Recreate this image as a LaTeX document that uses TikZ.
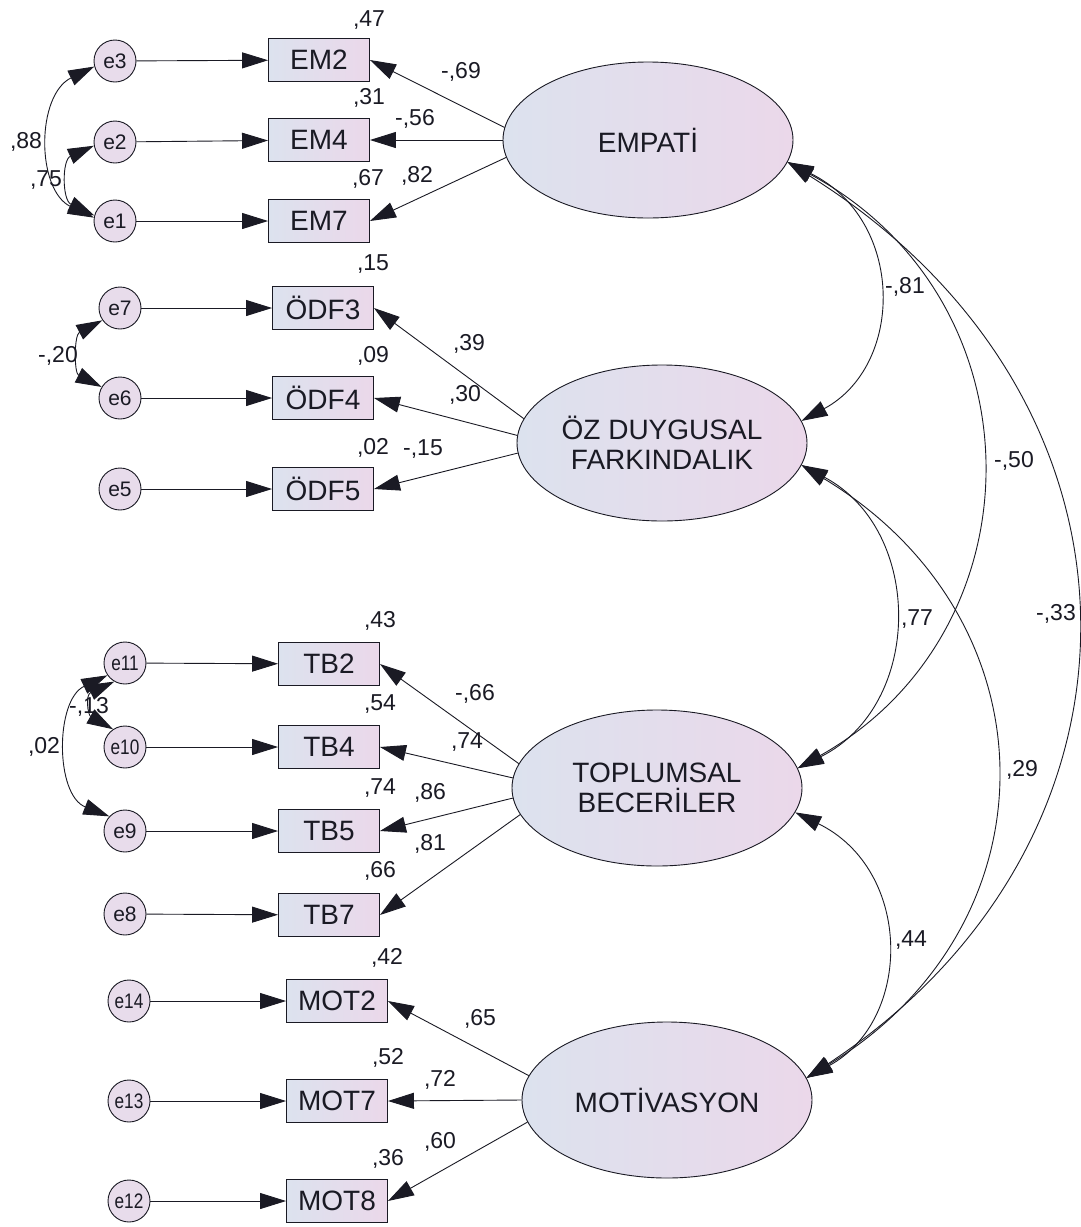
\documentclass[tikz,border=0pt]{standalone}
\usepackage{fontspec}
\setmainfont{Liberation Sans}
\usetikzlibrary{arrows.meta,shapes.geometric}
\definecolor{lc}{HTML}{DCE2EE}
\definecolor{rc}{HTML}{EBD8EA}
\definecolor{ec}{HTML}{E8DCEB}
\definecolor{ink}{HTML}{1A1A24}
\begin{document}
\begin{tikzpicture}[x=1pt,y=-1pt,
  lat/.style={ellipse,draw=ink,line width=0.9pt,left color=lc,right color=rc,minimum width=290pt,minimum height=156pt,inner sep=0pt,align=center,font=\fontsize{28}{30}\selectfont,text=ink},
  obs/.style={rectangle,draw=ink,line width=0.9pt,left color=lc,right color=rc,minimum width=101pt,minimum height=43pt,inner sep=0pt,font=\fontsize{28}{30}\selectfont,text=ink},
  err/.style={circle,draw=ink,line width=0.9pt,fill=ec,minimum size=42pt,inner sep=0pt,font=\fontsize{21}{23}\selectfont,text=ink},
  num/.style={font=\fontsize{23}{25}\selectfont,text=ink,inner sep=0pt},
  arr/.style={draw=ink,line width=0.9pt,-{Triangle[length=26pt,width=16pt]}},
  cov/.style={draw=ink,line width=0.9pt,{Triangle[length=26pt,width=16pt]}-{Triangle[length=26pt,width=16pt]}}
]
\fill[white] (0,0) rectangle (1080,1227);
\useasboundingbox (0,0) rectangle (1080,1227);

% latent variables
\node[lat] (emp) at (648,140) {EMPATİ};
\node[lat] (oz) at (662,443) {ÖZ DUYGUSAL\\FARKINDALIK};
\node[lat] (top) at (657,788) {TOPLUMSAL\\BECERİLER};
\node[lat] (mot) at (667,1100) {MOTİVASYON};

% observed variables
\node[obs] (em2) at (319,60) {EM2};
\node[obs] (em4) at (319,140) {EM4};
\node[obs] (em7) at (319,221) {EM7};
\node[obs] (odf3) at (323,308) {ÖDF3};
\node[obs] (odf4) at (323,398) {ÖDF4};
\node[obs] (odf5) at (323,489) {ÖDF5};
\node[obs] (tb2) at (329,664) {TB2};
\node[obs] (tb4) at (329,747) {TB4};
\node[obs] (tb5) at (329,831) {TB5};
\node[obs] (tb7) at (329,915) {TB7};
\node[obs] (mot2) at (337,1001) {MOT2};
\node[obs] (mot7) at (337,1101) {MOT7};
\node[obs] (mot8) at (337,1201) {MOT8};

% error terms
\node[err] (e3) at (115,61) {e3};
\node[err] (e2) at (115,142) {e2};
\node[err] (e1) at (115,221) {e1};
\node[err] (e7) at (120,308) {e7};
\node[err] (e6) at (120,398) {e6};
\node[err] (e5) at (120,489) {e5};
\node[err] (e11) at (125,663) {\scalebox{0.82}[1]{e11}};
\node[err] (e10) at (125,747) {\scalebox{0.82}[1]{e10}};
\node[err] (e9) at (125,831) {e9};
\node[err] (e8) at (125,914) {e8};
\node[err] (e14) at (129,1001) {\scalebox{0.82}[1]{e14}};
\node[err] (e13) at (129,1101) {\scalebox{0.82}[1]{e13}};
\node[err] (e12) at (129,1201) {\scalebox{0.82}[1]{e12}};

% error -> indicator
\foreach \a/\b in {e3/em2,e2/em4,e1/em7,e7/odf3,e6/odf4,e5/odf5,e11/tb2,e10/tb4,e9/tb5,e8/tb7,e14/mot2,e13/mot7,e12/mot8}
  \draw[arr] (\a) -- (\b);

% loadings
\draw[arr] (emp.175) -- (em2.east);
\draw[arr] (emp.180) -- (em4.east);
\draw[arr] (emp.187) -- (em7.east);
\draw[arr] (oz.170) -- (odf3.east);
\draw[arr] (oz.177) -- (odf4.east);
\draw[arr] (oz.184) -- (odf5.east);
\draw[arr] (top.170) -- (tb2.east);
\draw[arr] (top.176) -- (tb4.east);
\draw[arr] (top.184) -- (tb5.east);
\draw[arr] (top.191) -- (tb7.east);
\draw[arr] (mot.170.5) -- (mot2.east);
\draw[arr] (mot.180) -- (mot7.east);
\draw[arr] (mot.189.5) -- (mot8.east);

% factor covariances
\draw[cov] (emp.-9.4) .. controls (905,220) and (905,365) .. (oz.9.4);
\draw[cov] (emp.-9.4) .. controls (1043,300) and (1043,630) .. (top.8.6);
\draw[cov] (emp.-9.4) .. controls (1168,400) and (1168,840) .. (mot.9);
\draw[cov] (oz.-9.8) .. controls (924,530) and (924,705) .. (top.8.6);
\draw[cov] (oz.-9.8) .. controls (1058,620) and (1058,925) .. (mot.9);
\draw[cov] (top.-10) .. controls (913,870) and (913,1020) .. (mot.9);

% error covariances
\draw[cov] (e3.195) .. controls (36,95) and (36,190) .. (e1.171);
\draw[cov] (e2.190) .. controls (62,160) and (62,200) .. (e1.165);
\draw[cov] (e7.215) .. controls (74,335) and (74,373) .. (e6.149);
\draw[cov] (e11.240) .. controls (85,695) and (88,715) .. (e10.124);
\draw[cov] (e11.215) .. controls (55,700) and (55,795) .. (e9.137);

% squared multiple correlations
\node[num] (r1) at (369,20) {,47};
\node[num] (r2) at (369,98) {,31};
\node[num] (r3) at (368,179) {,67};
\node[num] (r4) at (373,264) {,15};
\node[num] (r5) at (373,356) {,09};
\node[num] (r6) at (373,448) {,02};
\node[num] (r7) at (380,621) {,43};
\node[num] (r8) at (380,704) {,54};
\node[num] (r9) at (380,788) {,74};
\node[num] (r10) at (380,871) {,66};
\node[num] (r11) at (387,958) {,42};
\node[num] (r12) at (388,1058) {,52};
\node[num] (r13) at (388,1159) {,36};

% loading values
\node[num] (l1) at (461,72) {-,69};
\node[num] (l2) at (415,119) {-,56};
\node[num] (l3) at (417,176) {,82};
\node[num] (l4) at (469,344) {,39};
\node[num] (l5) at (465,395) {,30};
\node[num] (l6) at (423,449) {-,15};
\node[num] (l7) at (475,694) {-,66};
\node[num] (l8) at (467,742) {,74};
\node[num] (l9) at (430,793) {,86};
\node[num] (l10) at (430,844) {,81};
\node[num] (l11) at (480,1019) {,65};
\node[num] (l12) at (440,1080) {,72};
\node[num] (l13) at (440,1142) {,60};

% error covariance values
\node[num] (c1) at (26,142) {,88};
\node[num] (c2) at (46,180) {,75};
\node[num] (c3) at (58,356) {-,20};
\node[num] (c4) at (89,707) {-,13};
\node[num] (c5) at (44,747) {,02};

% factor covariance values
\node[num] (f1) at (905,287) {-,81};
\node[num] (f2) at (1014,461) {-,50};
\node[num] (f3) at (1056,614) {-,33};
\node[num] (f4) at (917,619) {,77};
\node[num] (f5) at (1022,770) {,29};
\node[num] (f6) at (911,940) {,44};
\end{tikzpicture}
\end{document}
